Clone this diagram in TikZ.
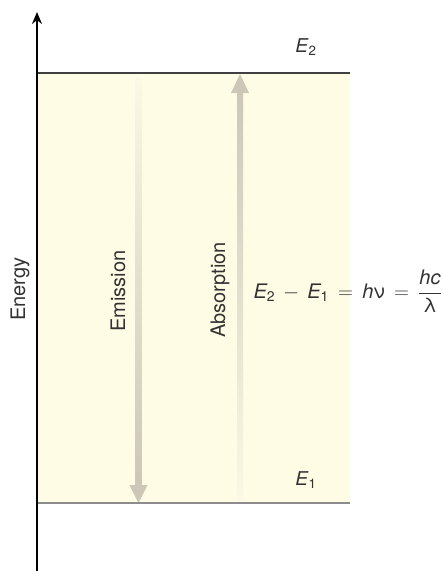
\documentclass[tikz,border=0pt]{standalone}
\usepackage{amsmath}
\usepackage{fontspec}
\setmainfont{TeX Gyre Heros}
\usetikzlibrary{arrows.meta}
\definecolor{levelfill}{RGB}{255,252,229}
\definecolor{photon}{RGB}{204,199,182}
\definecolor{photonfade}{RGB}{251,248,229}
\definecolor{inkgray}{RGB}{50,50,50}

\begin{document}
\begin{tikzpicture}[x=1pt, y=-1pt,
  lvl/.style={line width=1.5pt},
  rot/.style={font=\fontsize{20}{24}\selectfont, text=inkgray, rotate=90, inner sep=0pt},
  elab/.style={font=\fontsize{19}{23}\selectfont, text=inkgray, inner sep=0pt},
  head/.style={fill=photon},
]
\useasboundingbox (0,0) rectangle (443,571);
\def\xl{37}
\def\xr{350}
\def\yt{73}
\def\yb{503}
\coordinate (E2l) at (\xl,\yt);
\coordinate (E2r) at (\xr,\yt);
\coordinate (E1l) at (\xl,\yb);
\coordinate (E1r) at (\xr,\yb);
\coordinate (axb) at (\xl,571);
\coordinate (axt) at (\xl,12);
\coordinate (emtip) at (138.5,\yb);
\coordinate (abtip) at (240,74);
\fill[levelfill] (E2l) rectangle (E1r);
\shade[top color=photonfade, bottom color=photon] (135.5,78) rectangle (141.5,486);
\fill[head] (emtip) -- ++(-9,-18) -- ++(18,0) -- cycle;
\shade[top color=photon, bottom color=photonfade] (237,92) rectangle (243,500);
\fill[head] (abtip) -- ++(-9,19) -- ++(18,0) -- cycle;
\draw[lvl, black!75] (E2l) -- (E2r);
\draw[lvl, black!45, line width=2pt] (E1l) -- (E1r);
\draw[line width=1.5pt, -{Stealth[length=12pt,width=10pt]}] (axb) -- (axt);
\node[rot] (energy) at (20,289) {Energy};
\node[rot] (emis) at (118,291) {Emission};
\node[rot] (absorp) at (220,290) {Absorption};
\node[elab] (e2) at (306,47) {\textit{E}\textsubscript{2}};
\node[elab] (e1) at (306,480) {\textit{E}\textsubscript{1}};
\node[elab, font=\fontsize{20}{24}\selectfont, anchor=east] (eq) at (442,291)
  {$\textit{E}_{\text{2}}\,-\,\textit{E}_{\text{1}}\,=\,\textit{h}\text{ν}\,=\,\dfrac{\textit{hc}}{\text{λ}}$};
\end{tikzpicture}
\end{document}
